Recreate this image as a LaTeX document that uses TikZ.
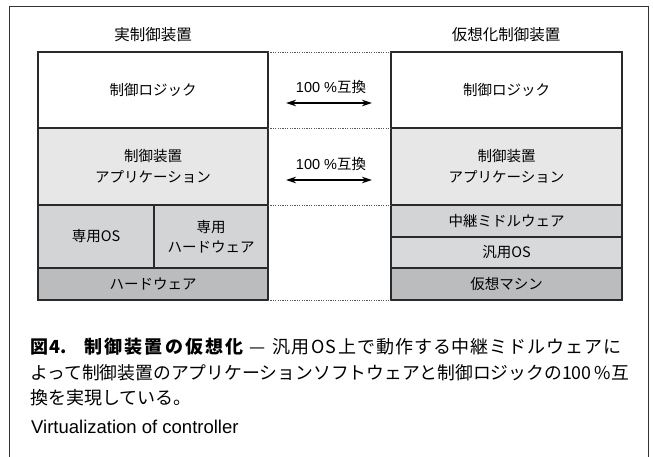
\documentclass[tikz,border=0pt]{standalone}
\usepackage{fontspec}
\setmainfont{Liberation Sans}
\newfontfamily\jp{Noto Sans CJK JP}
\usetikzlibrary{arrows.meta}
\definecolor{appc}{HTML}{E7E7E8}
\definecolor{osc}{HTML}{D3D4D6}
\definecolor{gosc}{HTML}{D8D9DB}
\definecolor{hwc}{HTML}{BBBCBE}
\definecolor{edge}{HTML}{2A2A2A}
\begin{document}
\begin{tikzpicture}[x=1pt,y=-1pt,
  box/.style={draw=edge, line width=1.1pt, inner sep=0pt, outer sep=0pt, align=center,
    anchor=north west, font=\jp\fontsize{14.5}{20.5}\selectfont},
  ttl/.style={font=\jp\fontsize{15.5}{18}\selectfont, inner sep=0pt},
  lbl/.style={font=\fontsize{14.5}{18}\selectfont, inner sep=0pt},
  dots/.style={draw=black!65, line width=0.7pt, dash pattern=on 1.2pt off 1.2pt},
  dbl/.style={line width=1.1pt, {Stealth[length=10pt,width=6.5pt]}-{Stealth[length=10pt,width=6.5pt]}},
  captxt/.style={anchor=west, inner sep=0pt, font=\jp\fontsize{18}{22}\selectfont}]
\useasboundingbox (0,0) rectangle (653,457);
\fill[white] (0,0) rectangle (653,457);
% frame
\draw[line width=0.9pt, black!80] (9,458) -- (9,6) -- (648,6) -- (648,458);
% titles
\node[ttl] (Lt) at (153,35) {実制御装置};
\node[ttl] (Rt) at (506,35) {仮想化制御装置};
% left stack
\node[box, fill=white, minimum width=230pt, minimum height=76pt] (Llogic) at (38,52) {制御ロジック};
\node[box, fill=appc, minimum width=230pt, minimum height=77pt] (Lapp) at (38,128) {制御装置\\アプリケーション};
\node[box, fill=osc, minimum width=116pt, minimum height=63pt] (Los) at (38,205) {専用OS};
\node[box, fill=osc, minimum width=114pt, minimum height=63pt] (Lded) at (154,205) {専用\\ハードウェア};
\node[box, fill=hwc, minimum width=230pt, minimum height=32pt] (Lhw) at (38,268) {ハードウェア};
% right stack
\node[box, fill=white, minimum width=231pt, minimum height=76pt] (Rlogic) at (391,52) {制御ロジック};
\node[box, fill=appc, minimum width=231pt, minimum height=77pt] (Rapp) at (391,128) {制御装置\\アプリケーション};
\node[box, fill=osc, minimum width=231pt, minimum height=32pt] (Rmw) at (391,205) {中継ミドルウェア};
\node[box, fill=gosc, minimum width=231pt, minimum height=31pt] (Ros) at (391,237) {汎用OS};
\node[box, fill=hwc, minimum width=231pt, minimum height=32pt] (Rvm) at (391,268) {仮想マシン};
% dotted guides
\draw[dots] (Llogic.north east) -- (Rlogic.north west);
\draw[dots] (Lapp.north east) -- (Rapp.north west);
\draw[dots] (Lapp.south east) -- (Rapp.south west);
\draw[dots] (Lhw.south east) -- (Rvm.south west);
% arrows
\node[lbl] (c1) at (331,87) {100 \%{\jp 互換}};
\node[lbl] (c2) at (331,164) {100 \%{\jp 互換}};
\coordinate (a1l) at (286,103);
\coordinate (a1r) at (372,103);
\coordinate (a2l) at (286,180);
\coordinate (a2r) at (372,180);
\draw[dbl] (a1l) -- (a1r);
\draw[dbl] (a2l) -- (a2r);
% caption
\node[captxt] (cap1) at (30,347) {{\bfseries 図\hspace{1pt}4.\hspace{18pt}{\addfontfeature{LetterSpace=12}制御装置の仮想化}}\hspace{6pt}—\hspace{7pt}{\addfontfeature{LetterSpace=5}汎用\hspace{2pt}OS\hspace{2pt}上で動作する中継ミドルウェアに}};
\node[captxt, font=\jp\fontsize{17.8}{22}\selectfont] (cap2) at (30,373) {よって制御装置のアプリケーションソフトウェアと制御ロジックの100\,\%互};
\node[captxt] (cap3) at (30,398) {換を実現している。};
\node[anchor=west, inner sep=0pt, font=\fontsize{18.5}{22}\selectfont] (cap4) at (31,427) {Virtualization of controller};
\end{tikzpicture}
\end{document}
